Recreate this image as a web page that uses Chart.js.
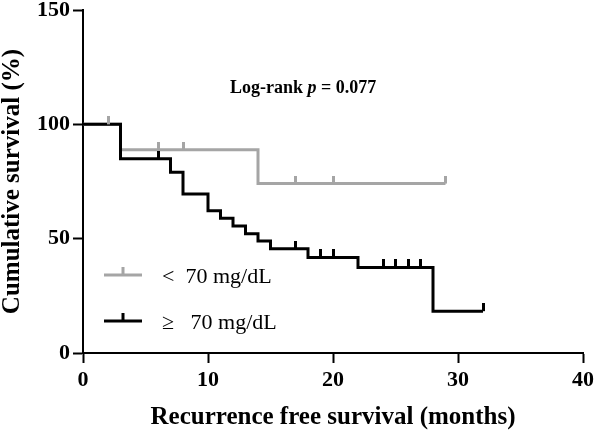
<!DOCTYPE html>
<html>
<head>
<meta charset="utf-8">
<script src="https://cdn.jsdelivr.net/npm/chart.js@4/dist/chart.umd.min.js"></script>
<style>
  html, body { margin: 0; padding: 0; background: #fff; }
  #wrap { width: 596px; height: 433px; }
</style>
</head>
<body>
<div id="wrap"><canvas id="km"></canvas></div>
<script>
// Kaplan-Meier steps (time in months, survival in %)
const lowTimes = [0, 3, 14, 29];
const lowSurv = [100, 88.9, 74.1, 74.1];
const lowCensor = [2, 6, 8, 17, 20, 29];

const highTimes = [0, 3, 7, 8, 10, 11, 12, 13, 14, 15, 18, 22, 28, 32];
const highSurv = [100, 85, 79, 69.5, 62.2, 58.9, 55.5, 52.2, 49, 45.6, 41.8, 37.4, 18.3, 18.3];
const highCensor = [6, 17, 19, 20, 24, 25, 26, 27, 32];

const groupLabels = ['<  70 mg/dL', '\u2265   70 mg/dL'];
const xTicks = [0, 10, 20, 30, 40];
const yTicks = [0, 50, 100, 150];

const GREY = '#a5a5a5';
const BLACK = '#000000';
const SERIF = '"Liberation Serif", "Times New Roman", serif';

function stepPoints(times, surv) {
    return times.map((t, i) => ({ x: t, y: surv[i] }));
}

// survival level at a given time (step function)
function survAt(times, surv, t) {
    let s = surv[0];
    for (let i = 0; i < times.length; i++) {
        if (times[i] <= t) s = surv[i];
    }
    return s;
}

// little upward tick used as the censor mark
function tickImage(color) {
    const c = document.createElement('canvas');
    c.width = 3;
    c.height = 16;
    const g = c.getContext('2d');
    g.fillStyle = color;
    g.fillRect(0, 0, 3, 8);
    return c;
}

const overlay = {
    id: 'overlay',
    afterDraw(chart) {
        const ctx = chart.ctx;
        ctx.save();
        // log-rank annotation
        ctx.fillStyle = '#000';
        ctx.textBaseline = 'alphabetic';
        let x = 230, y = 93;
        ctx.font = 'bold 18px ' + SERIF;
        ctx.fillText('Log-rank ', x, y);
        x += ctx.measureText('Log-rank ').width;
        ctx.font = 'italic bold 18px ' + SERIF;
        ctx.fillText('p', x, y);
        x += ctx.measureText('p').width;
        ctx.font = 'bold 18px ' + SERIF;
        ctx.fillText(' = 0.077', x, y);

        // legend
        const rows = [
            { color: GREY, label: groupLabels[0], y: 275 },
            { color: BLACK, label: groupLabels[1], y: 321 }
        ];
        rows.forEach(r => {
            ctx.strokeStyle = r.color;
            ctx.lineWidth = 3;
            ctx.beginPath();
            ctx.moveTo(104, r.y);
            ctx.lineTo(142, r.y);
            ctx.moveTo(123, r.y);
            ctx.lineTo(123, r.y - 8);
            ctx.stroke();
            ctx.fillStyle = '#000';
            ctx.font = '22px ' + SERIF;
            ctx.textBaseline = 'middle';
            ctx.fillText(r.label, 162, r.y + 2);
        });
        ctx.restore();
    }
};

const ctx = document.getElementById('km').getContext('2d');
const kmChart = new Chart(ctx, {
    type: 'scatter',
    data: {
        datasets: [
            {
                label: 'high censor',
                data: highCensor.map(t => ({ x: t, y: survAt(highTimes, highSurv, t) })),
                pointStyle: tickImage(BLACK),
                pointRadius: 8,
                showLine: false,
                order: 0,
                clip: false
            },
            {
                label: 'low censor',
                data: lowCensor.map(t => ({ x: t, y: survAt(lowTimes, lowSurv, t) })),
                pointStyle: tickImage(GREY),
                pointRadius: 8,
                showLine: false,
                order: 1,
                clip: false
            },
            {
                label: groupLabels[1],
                data: stepPoints(highTimes, highSurv),
                showLine: true,
                stepped: 'before',
                borderColor: BLACK,
                borderWidth: 3,
                pointRadius: 0,
                fill: false,
                order: 2,
                clip: false
            },
            {
                label: groupLabels[0],
                data: stepPoints(lowTimes, lowSurv),
                showLine: true,
                stepped: 'before',
                borderColor: GREY,
                borderWidth: 3,
                pointRadius: 0,
                fill: false,
                order: 3,
                clip: false
            }
        ]
    },
    options: {
        responsive: true,
        maintainAspectRatio: false,
        animation: false,
        layout: { padding: { left: 0, top: 10, right: 13, bottom: 0 } },
        plugins: {
            legend: { display: false },
            tooltip: { enabled: false }
        },
        scales: {
            x: {
                type: 'linear',
                min: 0,
                max: 40,
                afterFit(scale) {
                    scale.height = 80;
                    scale.paddingLeft = 0;
                    scale.paddingRight = 0;
                },
                afterBuildTicks(scale) { scale.ticks = xTicks.map(v => ({ value: v })); },
                border: { color: BLACK, width: 2 },
                grid: { drawOnChartArea: false, drawTicks: true, tickLength: 10, tickWidth: 2, tickColor: BLACK },
                ticks: {
                    color: BLACK,
                    padding: 4,
                    maxRotation: 0,
                    font: { family: SERIF, size: 22, weight: 'bold' }
                },
                title: {
                    display: true,
                    text: 'Recurrence free survival (months)',
                    color: BLACK,
                    font: { family: SERIF, size: 25, weight: 'bold', lineHeight: 1.2 },
                    padding: { top: 0, bottom: 0 }
                }
            },
            y: {
                min: 0,
                max: 150,
                afterFit(scale) {
                    scale.width = 83;
                    scale.paddingTop = 0;
                    scale.paddingBottom = 0;
                },
                afterBuildTicks(scale) { scale.ticks = yTicks.map(v => ({ value: v })); },
                border: { color: BLACK, width: 2 },
                grid: { drawOnChartArea: false, drawTicks: true, tickLength: 10, tickWidth: 2, tickColor: BLACK },
                ticks: {
                    color: BLACK,
                    padding: 3,
                    font: { family: SERIF, size: 22, weight: 'bold' }
                },
                title: {
                    display: true,
                    text: 'Cumulative survival (%)',
                    color: BLACK,
                    font: { family: SERIF, size: 25, weight: 'bold', lineHeight: 1 },
                    padding: { top: 0, bottom: 0 }
                }
            }
        }
    },
    plugins: [overlay]
});
</script>
</body>
</html>
